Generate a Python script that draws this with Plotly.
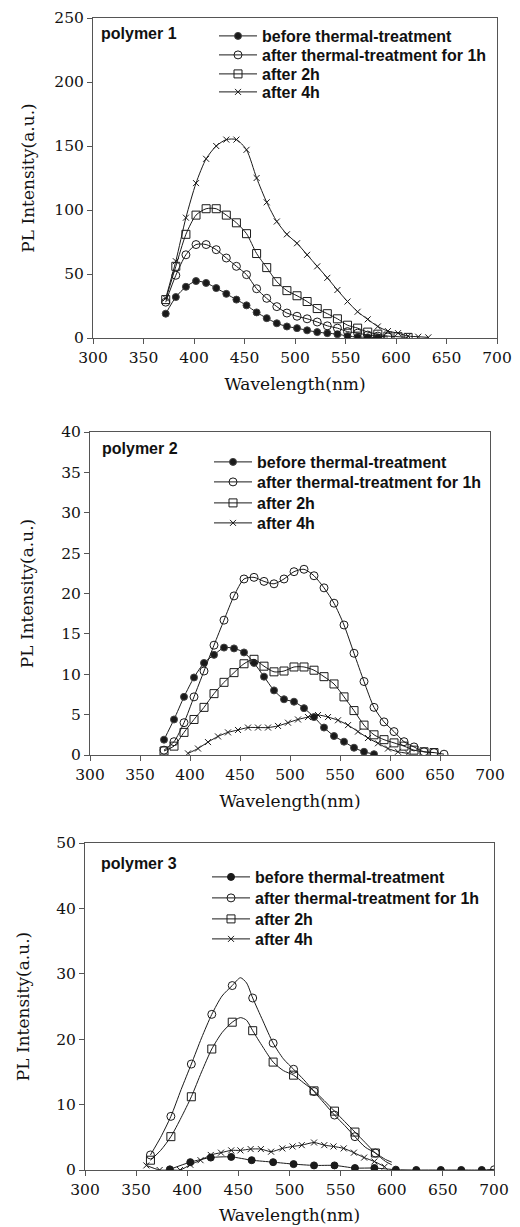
import plotly.graph_objects as go

# The page body has an 8px margin, so the figure is drawn from (8, 8).
OFF = 8
W, H = 520 - OFF, 1227 - OFF

# ---------------- data: polymer 1 ----------------
p1_before_x = [372, 382, 392, 402, 412, 422, 432, 442, 452, 462, 472, 482, 492, 502, 512, 522, 532, 542, 552, 562, 572, 582]
p1_before_y = [19, 32, 40, 44.5, 43, 39, 34.5, 30, 25.5, 20, 15.5, 11.5, 9, 7.7, 6, 4.6, 3.8, 3, 1.5, 0.8, 0.5, 0.4]
p1_1h_x = [372, 382, 392, 402, 412, 422, 432, 442, 452, 462, 472, 482, 492, 502, 512, 522, 532, 542, 552, 562, 572, 582, 592]
p1_1h_y = [28, 49, 65, 73, 73, 69, 62.5, 56, 49.5, 38.5, 31, 24.5, 19.5, 17, 15, 12.5, 9.5, 7.7, 5, 3.8, 2.3, 1.5, 0.8]
p1_2h_x = [372, 382, 392, 402, 412, 422, 432, 442, 452, 462, 472, 482, 492, 502, 512, 522, 532, 542, 552, 562, 572, 582, 592, 602, 612]
p1_2h_y = [30, 56, 81, 96, 101, 101, 96, 90, 81.5, 66, 55, 44, 37, 33, 28.5, 23, 19, 15, 10, 7.7, 4.6, 3, 1.5, 1, 0.5]
p1_4h_x = [372, 382, 392, 402, 412, 422, 432, 442, 452, 462, 472, 482, 492, 502, 512, 522, 532, 542, 552, 562, 572, 582, 592, 602, 612, 622, 632]
p1_4h_y = [31, 60, 94, 121, 140, 150, 155, 155, 147, 125, 106, 91, 81, 74, 65, 56, 47, 37.5, 28.5, 20.5, 14.6, 9, 5.4, 3.8, 1.5, 1, 0.5]

# ---------------- data: polymer 2 ----------------
p2_before_x = [374, 384, 394, 404, 414, 424, 434, 444, 454, 464, 474, 484, 494, 504, 514, 524, 534, 544, 554, 564, 574, 584]
p2_before_y = [1.9, 4.4, 7.2, 9.6, 11.4, 12.4, 13.3, 13.2, 12.7, 11.4, 9.7, 8.0, 6.9, 6.6, 5.8, 4.7, 3.4, 2.35, 1.65, 0.9, 0.4, 0.1]
p2_1h_x = [374, 384, 394, 404, 414, 424, 434, 444, 454, 464, 474, 484, 494, 504, 514, 524, 534, 544, 554, 564, 574, 584, 594, 604, 614, 624, 634, 644, 654]
p2_1h_y = [0.6, 1.65, 4.0, 7.2, 10.4, 13.6, 16.7, 19.7, 21.8, 22.0, 21.5, 21.2, 21.8, 22.7, 23.0, 22.2, 20.7, 18.8, 16.1, 12.6, 9.1, 5.9, 4.1, 2.9, 1.65, 1.0, 0.4, 0.3, 0.1]
p2_2h_x = [374, 384, 394, 404, 414, 424, 434, 444, 454, 464, 474, 484, 494, 504, 514, 524, 534, 544, 554, 564, 574, 584, 594, 604, 614, 624, 634, 644]
p2_2h_y = [0.5, 1.1, 2.8, 4.4, 5.9, 7.6, 9.0, 10.2, 11.3, 11.85, 11.0, 10.3, 10.4, 10.9, 10.9, 10.5, 9.7, 8.8, 7.2, 5.5, 3.7, 2.5, 1.9, 1.5, 1.1, 0.6, 0.4, 0.3]
p2_4h_x = [398, 408, 418, 428, 438, 448, 458, 468, 478, 488, 498, 508, 518, 528, 538, 548, 558, 568, 578, 588, 598, 608, 618]
p2_4h_y = [0.2, 0.8, 1.6, 2.3, 2.8, 3.1, 3.4, 3.4, 3.4, 3.6, 4.0, 4.4, 4.7, 4.95, 4.7, 4.3, 3.7, 2.9, 2.1, 1.45, 0.8, 0.4, 0.2]

# ---------------- data: polymer 3 (line points; markers at a subset) ----------------
p3_before_x = [383, 403, 423, 443, 463, 484, 504, 524, 544, 564, 583, 604, 624, 648, 668, 688, 700]
p3_before_y = [0.1, 1.2, 1.9, 2.0, 1.5, 1.2, 0.9, 0.7, 0.7, 0.3, 0.3, 0.05, 0.0, 0.0, 0.0, 0.0, 0.1]
p3_before_marks = [383, 403, 423, 443, 463, 484, 504, 524, 544, 564, 583, 604, 624, 648, 668, 688]
p3_12_x = [364, 374, 384, 394, 404, 414, 424, 434, 444, 452, 458, 464, 474, 484, 494, 504, 514, 524, 534, 544, 554, 564, 574, 584, 594, 600]
p3_1h_y = [2.3, 5.0, 8.2, 12.3, 16.2, 20.2, 23.8, 26.6, 28.2, 29.4, 28.6, 26.3, 22.8, 19.4, 17.0, 15.4, 13.8, 12.0, 10.2, 8.4, 6.8, 5.1, 3.5, 2.6, 1.6, 1.2]
p3_2h_y = [1.5, 3.0, 5.1, 8.0, 11.2, 15.0, 18.5, 21.0, 22.6, 23.3, 22.9, 21.3, 18.8, 16.5, 15.2, 14.5, 13.3, 12.1, 10.6, 9.0, 7.4, 5.8, 4.2, 2.6, 1.3, 0.8]
p3_12_marks = [364, 384, 404, 424, 444, 464, 484, 504, 524, 544, 564, 584]
p3_4h_x = [360, 373, 383, 393, 403, 413, 423, 433, 443, 452, 462, 472, 482, 493, 503, 512, 524, 534, 543, 553, 563, 573, 583, 593]
p3_4h_y = [0.7, 0.0, 0.0, 0.0, 0.8, 1.5, 2.3, 2.65, 3.0, 3.0, 3.2, 3.2, 2.8, 3.3, 3.6, 3.8, 4.2, 3.8, 3.6, 3.3, 2.65, 1.9, 1.3, 0.5]

names = ["before thermal-treatment", "after thermal-treatment for 1h", "after 2h", "after 4h"]
panel_labels = ["polymer 1", "polymer 2", "polymer 3"]
x_ticks = [300, 350, 400, 450, 500, 550, 600, 650, 700]

series = [
    [(p1_before_x, p1_before_y, None), (p1_1h_x, p1_1h_y, None), (p1_2h_x, p1_2h_y, None), (p1_4h_x, p1_4h_y, None)],
    [(p2_before_x, p2_before_y, None), (p2_1h_x, p2_1h_y, None), (p2_2h_x, p2_2h_y, None), (p2_4h_x, p2_4h_y, None)],
    [(p3_before_x, p3_before_y, p3_before_marks), (p3_12_x, p3_1h_y, p3_12_marks), (p3_12_x, p3_2h_y, p3_12_marks), (p3_4h_x, p3_4h_y, None)],
]

# ---------------- layout (page-pixel boxes) ----------------
panels = [
    dict(x0=93, x1=497, y0=18, y1=338, ymax=250, dtick=50, leg_x=214, leg_y=[36, 55, 74, 92], lab=(99, 33), ystand=15, xstand=12),
    dict(x0=90, x1=490, y0=432, y1=755, ymax=40, dtick=5, leg_x=209, leg_y=[462, 482, 503, 523], lab=(100, 448), ystand=23, xstand=12),
    dict(x0=85, x1=494, y0=843, y1=1170, ymax=50, dtick=10, leg_x=207, leg_y=[877, 898, 919, 939], lab=(99, 863), ystand=22, xstand=11),
]


def px_x(v):
    return (v - OFF) / W


def px_y(v):
    return 1 - (v - OFF) / H


symbols = [("circle", 7), ("circle-open", 8), ("square-open", 8), ("x-thin-open", 6)]
INK = "#1a1a1a"
AX = "#555555"
serif = "DejaVu Serif"
sans = "Liberation Sans"

fig = go.Figure()
layout = dict(width=W, height=H, margin=dict(l=0, r=0, t=0, b=0, autoexpand=False),
              paper_bgcolor="white", plot_bgcolor="white", showlegend=True)
annotations = []
leg_idx = 0
for p, pan in enumerate(panels):
    xa = "xaxis" if p == 0 else f"xaxis{p+1}"
    ya = "yaxis" if p == 0 else f"yaxis{p+1}"
    xref = "x" if p == 0 else f"x{p+1}"
    yref = "y" if p == 0 else f"y{p+1}"
    common = dict(showline=True, linecolor=AX, linewidth=1, mirror=True, ticks="outside",
                  ticklen=5, tickcolor=AX, tickwidth=1, showgrid=False, zeroline=False,
                  automargin=False, ticklabeloverflow="allow",
                  tickfont=dict(family=serif, size=15.5, color="#111"))
    layout[xa] = dict(common, domain=[px_x(pan["x0"]), px_x(pan["x1"])], range=[300, 700],
                      tickvals=x_ticks, anchor=yref,
                      title=dict(text="Wavelength(nm)", standoff=pan["xstand"],
                                 font=dict(family=serif, size=17, color="#111")))
    layout[ya] = dict(common, domain=[px_y(pan["y1"]), px_y(pan["y0"])], range=[0, pan["ymax"]],
                      dtick=pan["dtick"], anchor=xref,
                      title=dict(text="PL Intensity(a.u.)", standoff=pan["ystand"],
                                 font=dict(family=serif, size=17, color="#111")))
    annotations.append(dict(text="<b>" + panel_labels[p] + "</b>", x=px_x(pan["lab"][0]), y=px_y(pan["lab"][1]),
                            xref="paper", yref="paper", xanchor="left", yanchor="middle", showarrow=False,
                            font=dict(family=sans, size=16, color="#111")))
    for s, (xs, ys, marks) in enumerate(series[p]):
        leg_idx += 1
        lname = "legend" if leg_idx == 1 else f"legend{leg_idx}"
        sym, size = symbols[s]
        if marks is None:
            colors = INK
        else:
            colors = [INK if v in marks else "rgba(0,0,0,0)" for v in xs]
        fig.add_trace(go.Scatter(
            x=xs, y=ys, name=names[s], mode="lines+markers", xaxis=xref, yaxis=yref,
            legend=lname,
            line=dict(color=INK, width=1, shape="spline", smoothing=0.7),
            marker=dict(symbol=sym, size=size, color=colors, line=dict(width=1))))
        layout[lname] = dict(x=px_x(pan["leg_x"]), y=px_y(pan["leg_y"][s]), xanchor="left", yanchor="middle",
                             bgcolor="rgba(0,0,0,0)", borderwidth=0, itemwidth=38,
                             font=dict(family=sans, size=16, color="#111", weight="bold"))

layout["annotations"] = annotations
fig.update_layout(**layout)
fig.write_html("out.html")
